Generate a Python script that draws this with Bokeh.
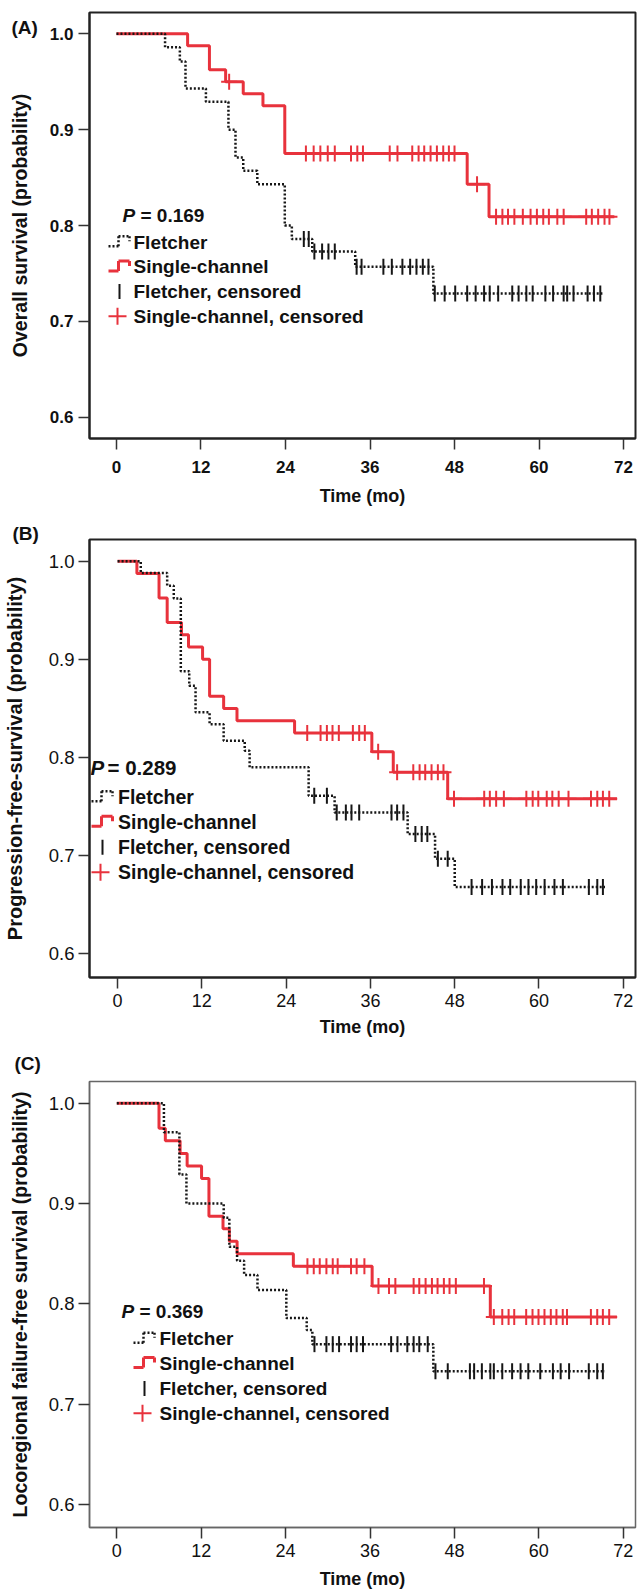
import numpy as np
from bokeh.plotting import figure
from bokeh.models import Label, Title, Arrow, FixedTicker, NumeralTickFormatter, Range1d
from bokeh.layouts import column
from bokeh.embed import file_html
from bokeh.resources import INLINE

RED = "#e8323c"
BLACK = "#161616"
FONT = "Liberation Sans"

# ---------------- data (time in months, survival probability) ----------------
# (A) Overall survival
a_fl_t = [0, 6.9, 9.0, 9.8, 12.7, 15.9, 16.9, 18.0, 20.0, 23.9, 24.9, 27.8, 33.9, 45.0]
a_fl_s = [1.0, 0.986, 0.971, 0.943, 0.929, 0.900, 0.871, 0.857, 0.843, 0.800, 0.786, 0.773, 0.757, 0.729]
a_fl_end = 69.0
a_fl_cens = [26.6, 27.3, 28.1, 29.2, 30.1, 31.0, 34.1, 34.8, 37.9, 39.1, 40.6, 41.7, 42.6, 43.5, 44.3,
             45.2, 46.6, 48.1, 49.8, 51.0, 52.2, 53.0, 54.2, 56.2, 57.1, 58.2, 59.1, 60.9, 62.0, 63.5,
             64.0, 64.9, 66.9, 67.8, 68.7]
a_sc_t = [0, 10.1, 13.2, 15.5, 18.0, 20.8, 23.9, 49.8, 52.9]
a_sc_s = [1.0, 0.9875, 0.9625, 0.95, 0.9375, 0.925, 0.875, 0.843, 0.809]
a_sc_end = 70.7
a_sc_cens = [16.0, 26.9, 28.0, 28.95, 30.0, 31.0, 33.3, 34.2, 35.0, 38.8, 39.9, 42.0, 42.9, 43.7, 44.6,
             45.5, 46.4, 47.2, 48.0, 51.2, 53.9, 54.8, 55.6, 56.5, 57.7, 58.8, 59.7, 60.6, 61.4, 62.6,
             63.5, 66.7, 67.5, 68.4, 69.3, 70.0]
a_p = "= 0.169"

# (B) Progression-free survival
b_fl_t = [0, 3.3, 7.06, 8.0, 9.0, 10.2, 11.1, 13.1, 15.1, 18.1, 18.8, 27.2, 30.9, 41.3, 45.2, 48.0]
b_fl_s = [1.0, 0.988, 0.975, 0.962, 0.888, 0.873, 0.846, 0.834, 0.817, 0.807, 0.790, 0.761, 0.744,
          0.722, 0.697, 0.668]
b_fl_end = 69.4
b_fl_cens = [28.0, 29.8, 31.2, 32.5, 33.3, 34.4, 39.0, 39.8, 40.7, 42.4, 43.3, 44.1, 45.6, 47.0, 50.4,
             51.9, 53.3, 54.8, 55.9, 57.4, 58.5, 59.6, 60.8, 62.2, 63.4, 67.1, 68.3, 69.1]
b_sc_t = [0, 2.75, 5.9, 7.06, 9.1, 10.1, 12.1, 13.1, 15.1, 17.0, 25.2, 36.2, 39.25, 47.0]
b_sc_s = [1.0, 0.9875, 0.9625, 0.9375, 0.925, 0.9125, 0.9, 0.8625, 0.85, 0.8375, 0.825, 0.806, 0.785, 0.758]
b_sc_end = 71.1
b_sc_cens = [27.0, 28.9, 29.8, 30.6, 31.5, 33.5, 34.4, 35.2, 37.1, 39.8, 42.1, 43.0, 43.8, 44.7, 45.6,
             46.4, 47.9, 52.2, 53.0, 53.9, 55.0, 58.2, 59.1, 59.9, 61.1, 61.9, 62.8, 64.2, 67.4, 68.3,
             69.1, 70.0]
b_p = "= 0.289"

# (C) Locoregional failure-free survival
c_fl_t = [0, 6.7, 8.9, 9.9, 15.2, 16.0, 17.1, 18.1, 20.0, 24.1, 27.0, 27.8, 45.0]
c_fl_s = [1.0, 0.971, 0.929, 0.900, 0.886, 0.857, 0.843, 0.829, 0.814, 0.786, 0.774, 0.760, 0.733]
c_fl_end = 69.4
c_fl_cens = [28.1, 29.8, 30.7, 31.6, 33.3, 34.1, 35.0, 39.0, 39.9, 41.3, 42.2, 43.0, 44.2, 45.3, 47.05,
             50.2, 50.8, 51.9, 53.1, 53.6, 54.8, 56.2, 57.4, 58.5, 60.2, 62.0, 63.1, 64.3, 67.1, 68.3, 69.1]
c_sc_t = [0, 6.0, 6.9, 9.0, 10.0, 12.05, 13.1, 15.1, 16.0, 17.1, 25.1, 36.3, 53.1]
c_sc_s = [1.0, 0.975, 0.9625, 0.95, 0.9375, 0.925, 0.8875, 0.875, 0.8625, 0.85, 0.8375, 0.818, 0.787]
c_sc_end = 71.1
c_sc_cens = [27.1, 28.0, 28.85, 29.8, 30.7, 31.4, 33.3, 34.1, 35.2, 37.2, 38.7, 39.6, 42.2, 43.0, 43.9,
             44.8, 45.6, 46.5, 47.3, 48.2, 52.2, 53.6, 54.8, 55.7, 56.5, 58.2, 59.1, 59.95, 60.8, 61.7,
             62.5, 63.4, 64.0, 67.4, 68.3, 69.1, 70.0]
c_p = "= 0.369"

x_ticks = [0, 12, 24, 36, 48, 60, 72]
y_ticks = [0.6, 0.7, 0.8, 0.9, 1.0]
legend_labels = ["Fletcher", "Single-channel", "Fletcher, censored", "Single-channel, censored"]


def km_xy(t, s, end):
    return list(t) + [end], list(s) + [s[-1]]


def cens_y(t, s, c):
    idx = np.searchsorted(np.array(t), np.array(c), side="right") - 1
    return [s[i] for i in idx]


def seg(p, x0, y0, x1, y1, color, width, dash="solid"):
    p.add_layout(Arrow(x_start=x0, y_start=y0, x_end=x1, y_end=y1,
                       start_units="screen", end_units="screen", start=None, end=None,
                       line_color=color, line_width=width, line_dash=dash))


def text(p, x, y, s, style="bold", size="19px"):
    p.add_layout(Label(x=x, y=y, x_units="screen", y_units="screen", text=s,
                       text_font=FONT, text_font_style=style, text_font_size=size,
                       text_baseline="middle", text_color="#111111"))


def add_legend(p, x0, ys, tx, size):
    step = [(0, -4, 10, -4), (10, -4, 10, 6), (10, 6, 21, 6), (21, 6, 21, 1)]
    for (ax, ay, bx, by) in step:
        seg(p, x0 + ax, ys[0] + ay, x0 + bx, ys[0] + by, BLACK, 2.5, "2 2")
        seg(p, x0 + ax, ys[1] + ay, x0 + bx, ys[1] + by, RED, 3)
    seg(p, x0 + 11, ys[2] - 7.5, x0 + 11, ys[2] + 7.5, BLACK, 2)
    seg(p, x0, ys[3], x0 + 18, ys[3], RED, 2)
    seg(p, x0 + 9, ys[3] - 8.5, x0 + 9, ys[3] + 8.5, RED, 2)
    for lab, y in zip(legend_labels, ys):
        text(p, tx, y, lab, size=size)


def make_panel(cfg, fl, sc, pval):
    p = figure(width=642, height=cfg["h"], x_range=Range1d(*cfg["xr"]), y_range=Range1d(*cfg["yr"]),
               output_backend="svg", toolbar_location=None,
               min_border_left=cfg["bl"], min_border_right=cfg["br"],
               min_border_top=cfg["bt"], min_border_bottom=cfg["bb"])
    p.xgrid.visible = False
    p.ygrid.visible = False
    p.outline_line_color = cfg["outline"]
    p.outline_line_width = cfg["ow"]
    p.background_fill_color = "white"
    p.border_fill_color = "white"

    sx, sy = km_xy(*sc[:3])
    p.step(sx, sy, mode="after", line_color=RED, line_width=3)
    p.scatter(sc[3], cens_y(sc[0], sc[1], sc[3]), marker="cross", size=16,
              line_color=RED, line_width=2)
    fx, fy = km_xy(*fl[:3])
    p.step(fx, fy, mode="after", line_color=BLACK, line_width=2.5, line_dash="2 2")
    p.scatter(fl[3], cens_y(fl[0], fl[1], fl[3]), marker="dash", angle=np.pi / 2, size=16,
              line_color=BLACK, line_width=2)

    for ax in (p.xaxis[0], p.yaxis[0]):
        ax.axis_line_color = cfg["outline"]
        ax.axis_line_width = cfg["ow"]
        ax.major_tick_line_color = "#333333"
        ax.major_tick_line_width = 1.5
        ax.major_tick_out = 11
        ax.major_tick_in = 0
        ax.minor_tick_line_color = None
        ax.major_label_text_font = FONT
        ax.major_label_text_font_style = cfg["tick_style"]
        ax.major_label_text_color = "#111111"
        ax.axis_label_text_font = FONT
        ax.axis_label_text_font_style = "bold"
        ax.axis_label_text_color = "#111111"
    p.xaxis.major_label_text_font_size = cfg["xtick_size"]
    p.yaxis.major_label_text_font_size = cfg["ytick_size"]
    p.xaxis.ticker = FixedTicker(ticks=x_ticks)
    p.yaxis.ticker = FixedTicker(ticks=y_ticks)
    p.yaxis.formatter = NumeralTickFormatter(format="0.0")
    p.xaxis.axis_label = "Time (mo)"
    p.xaxis.axis_label_text_font_size = "18px"
    p.xaxis.major_label_standoff = cfg["x_lsoff"]
    p.xaxis.axis_label_standoff = cfg["x_tsoff"]
    p.yaxis.axis_label = cfg["ytitle"]
    p.yaxis.axis_label_text_font_size = cfg["ytitle_size"]
    p.yaxis.major_label_standoff = cfg["y_lsoff"]
    p.yaxis.axis_label_standoff = cfg["y_tsoff"]

    # panel tag, drawn as a title in the top panel (offset left of the frame)
    try:
        p.add_layout(Title(text=cfg["tag"], align="left", offset=cfg["tag_x"],
                           standoff=cfg["tag_standoff"], vertical_align="bottom",
                           text_font=FONT, text_font_style="bold", text_font_size="19px",
                           text_color="#111111"), "above")
    except Exception:
        pass

    px_, py_ = cfg["p_pos"]
    text(p, px_, py_, "P", style="bold italic", size=cfg["p_size"])
    text(p, cfg["eq_x"], py_, pval, size=cfg["p_size"])

    lx, ly0, ltx = cfg["leg"]
    add_legend(p, lx, [ly0 - i * cfg["pitch"] for i in range(4)], ltx, cfg["leg_size"])
    return p


cfg_a = dict(tag="(A)", tag_x=-78, tag_standoff=-50, h=511, bt=12, bb=73, bl=88, br=7,
             xr=(-3.83, 73.70), yr=(0.5778, 1.0222),
             outline="#222222", ow=2, xtick_size="17px", ytick_size="17px", tick_style="bold",
             x_lsoff=11, x_tsoff=10, y_lsoff=5, y_tsoff=16,
             ytitle="Overall survival (probability)", ytitle_size="19.5px",
             p_pos=(33, 223), eq_x=51, p_size="19px", leg=(19, 196.3, 44), pitch=24.7, leg_size="19px")
cfg_b = dict(tag="(B)", tag_x=-77, tag_standoff=-8, h=531, bt=28, bb=65, bl=87, br=1,
             xr=(-4.0, 73.74), yr=(0.5759, 1.0221),
             outline="#222222", ow=2, xtick_size="18px", ytick_size="18.5px", tick_style="normal",
             x_lsoff=5, x_tsoff=7, y_lsoff=4, y_tsoff=20,
             ytitle="Progression-free-survival (probability)", ytitle_size="20px",
             p_pos=(1, 210.3), eq_x=18, p_size="20.5px", leg=(2, 180.3, 28.5), pitch=25, leg_size="19.5px")
cfg_c = dict(tag="(C)", tag_x=-75, tag_standoff=16, h=552, bt=38, bb=67, bl=87, br=1,
             xr=(-3.88, 73.74), yr=(0.5774, 1.0216),
             outline="#666666", ow=1.5, xtick_size="18px", ytick_size="18.5px", tick_style="normal",
             x_lsoff=5, x_tsoff=9, y_lsoff=4, y_tsoff=15,
             ytitle="Locoregional failure-free survival (probability)", ytitle_size="19.5px",
             p_pos=(32, 216.3), eq_x=50, p_size="19px", leg=(44, 188.7, 70), pitch=24.8, leg_size="19px")

pa = make_panel(cfg_a, (a_fl_t, a_fl_s, a_fl_end, a_fl_cens), (a_sc_t, a_sc_s, a_sc_end, a_sc_cens), a_p)
pb = make_panel(cfg_b, (b_fl_t, b_fl_s, b_fl_end, b_fl_cens), (b_sc_t, b_sc_s, b_sc_end, b_sc_cens), b_p)
pc = make_panel(cfg_c, (c_fl_t, c_fl_s, c_fl_end, c_fl_cens), (c_sc_t, c_sc_s, c_sc_end, c_sc_cens), c_p)

layout = column(pa, pb, pc, spacing=0)
open("out.html", "w").write(file_html(layout, INLINE))
